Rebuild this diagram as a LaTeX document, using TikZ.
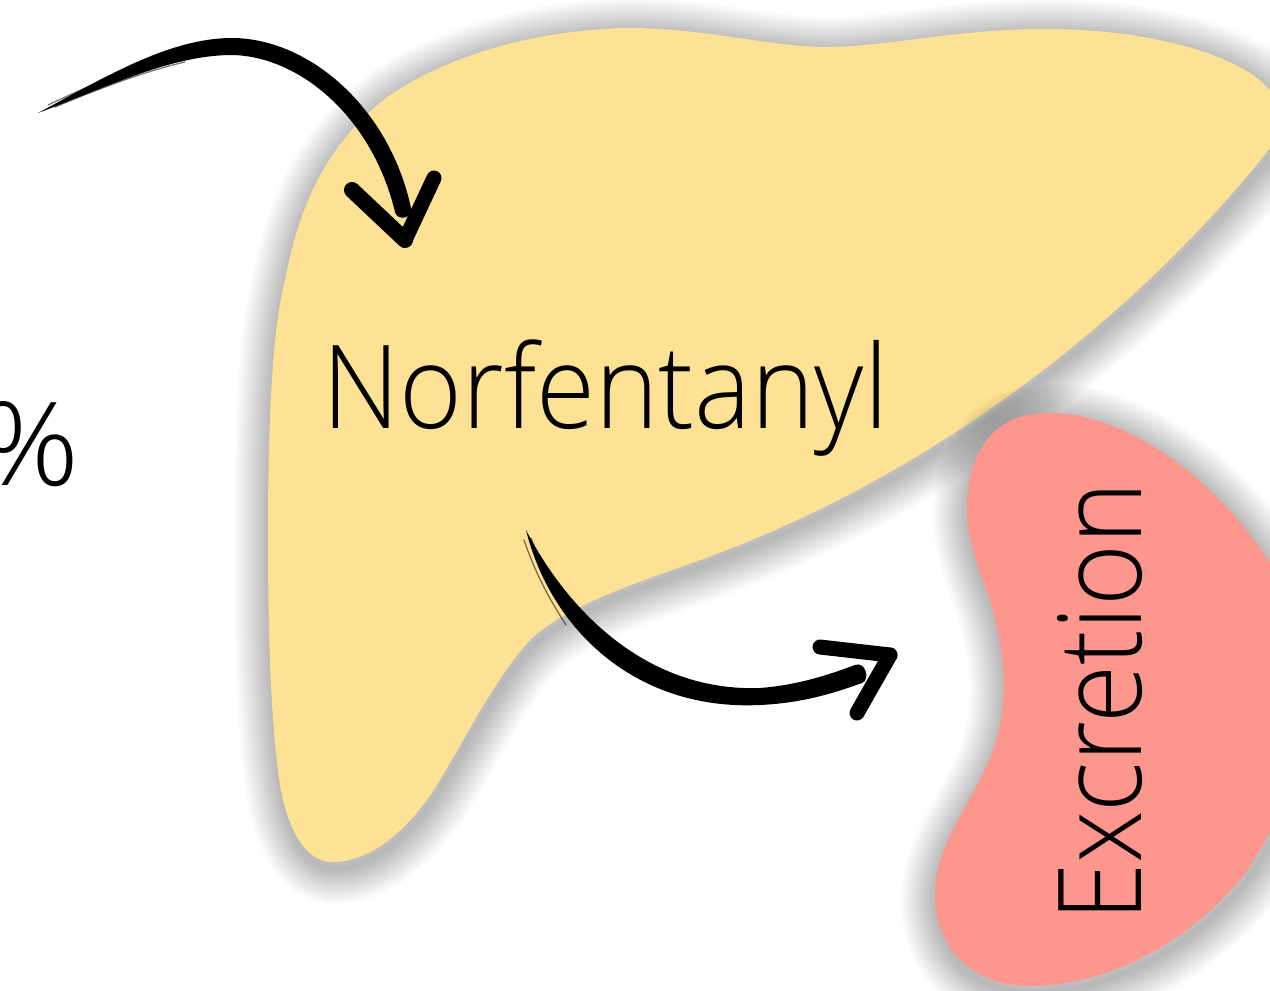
\documentclass[tikz,border=0pt]{standalone}
\usepackage{fontspec}
\usepackage{graphicx}
\newfontfamily\thinfont{Open Sans Light}
\definecolor{liver}{HTML}{FDE194}
\definecolor{kidney}{HTML}{FD968D}
\begin{document}
\begin{tikzpicture}[x=1pt,y=-1pt,
  label text/.style={inner sep=0pt, font=\thinfont\fontsize{116}{116}\selectfont, text=black},
  brush/.style={fill=black, draw=none},
  bristle/.style={draw=black, line width=1.2pt, opacity=0.55, line cap=round},
  brush arm/.style={draw=black, line width=15pt, line cap=round},
  soft shadow/.style={draw=black, opacity=0.015, line join=round}]
\useasboundingbox (0,0) rectangle (1270,991);
\clip (0,0) rectangle (1270,991);
\fill[white] (0,0) rectangle (1270,991);

% outlines of the two organs
\def\liverpath{(333,862) .. controls (305,862) and (288,830) .. (280,785)
  .. controls (270,720) and (268,620) .. (268,540)
  .. controls (268,420) and (272,330) .. (285,280)
  .. controls (300,200) and (330,140) .. (390,95)
  .. controls (450,55) and (530,32) .. (620,28)
  .. controls (700,27) and (760,45) .. (820,47)
  .. controls (880,48) and (950,30) .. (1038,29)
  .. controls (1150,28) and (1235,55) .. (1265,85)
  .. controls (1290,110) and (1285,130) .. (1270,148)
  .. controls (1150,300) and (950,470) .. (700,560)
  .. controls (630,585) and (570,605) .. (533,637)
  .. controls (500,670) and (470,730) .. (440,780)
  .. controls (410,830) and (370,862) .. (333,862) -- cycle}
\def\kidneypath{(1045,413) .. controls (1130,410) and (1230,490) .. (1280,580)
  .. controls (1330,680) and (1300,800) .. (1240,880)
  .. controls (1180,950) and (1100,986) .. (1030,986)
  .. controls (965,986) and (933,940) .. (935,890)
  .. controls (937,840) and (975,800) .. (993,750)
  .. controls (1010,700) and (1005,650) .. (990,600)
  .. controls (975,560) and (965,530) .. (967,500)
  .. controls (970,445) and (1000,413) .. (1045,413) -- cycle}

% liver with its soft shadow
\foreach \w in {4,8,...,72}
  \draw[soft shadow, line width=\w pt] [shift={(2,6)}] \liverpath;
\fill[liver] \liverpath;

% kidney with its soft shadow
\foreach \w in {4,8,...,72}
  \draw[soft shadow, line width=\w pt] [shift={(2,6)}] \kidneypath;
\fill[kidney] \kidneypath;

% labels
\node[label text, anchor=base east] (dose) at (80,485) {\scalebox{1.07}[1]{\%}};
\node[label text, anchor=base west] (norf) at (322,428) {\resizebox{566pt}{\height}{Norfentanyl}};
\node[label text, anchor=base west, rotate=90] (excr) at (1141,922) {\resizebox{440pt}{\height}{Excretion}};

% brush arrow into the liver
\coordinate (a1tail) at (38,113);
\coordinate (a1left) at (352,190);
\coordinate (a1tip) at (405,240);
\coordinate (a1right) at (434,178);
\fill[brush] (a1tail) .. controls (110,74) and (170,39) .. (230,38)
  .. controls (307,37) and (389,106) .. (411,208)
  .. controls (413,219) and (397,221) .. (395,212)
  .. controls (372,116) and (298,55) .. (230,55)
  .. controls (170,56) and (110,86) .. (a1tail) -- cycle;
\draw[bristle] (48,105) .. controls (100,80) and (150,62) .. (190,52);
\draw[bristle] (55,107) .. controls (105,86) and (150,70) .. (185,62);
\draw[brush arm, line width=16pt] (a1left) -- (a1tip);
\draw[brush arm] (a1tip) -- (a1right);

% brush arrow from the liver to the kidney
\coordinate (a2tail) at (526,530);
\coordinate (a2upper) at (820,647);
\coordinate (a2tip) at (890,655);
\coordinate (a2lower) at (857,713);
\fill[brush] (a2tail) .. controls (551,630) and (636,711) .. (760,705)
  .. controls (803,703) and (834,693) .. (862,683)
  .. controls (871,679) and (865,661) .. (855,665)
  .. controls (828,675) and (798,685) .. (760,688)
  .. controls (650,692) and (570,615) .. (a2tail) -- cycle;
\draw[bristle] (531,538) .. controls (545,575) and (560,600) .. (578,622);
\draw[bristle] (524,540) .. controls (536,575) and (550,600) .. (566,625);
\draw[brush arm] (a2upper) -- (a2tip);
\draw[brush arm] (a2tip) -- (a2lower);
\end{tikzpicture}
\end{document}
